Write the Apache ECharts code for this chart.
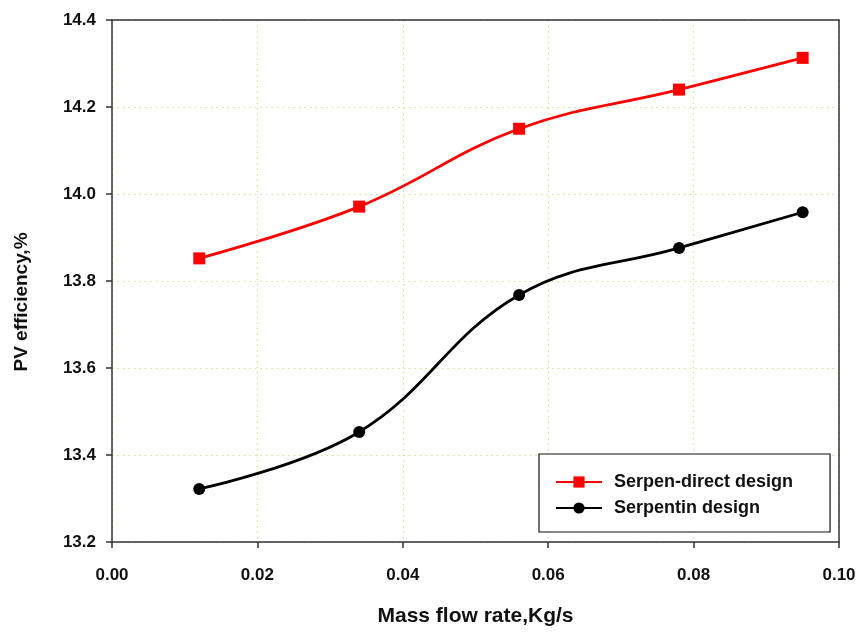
<!DOCTYPE html>
<html><head><meta charset="utf-8">
<script src="https://cdn.jsdelivr.net/npm/echarts@6/dist/echarts.min.js"></script>
<style>html,body{margin:0;padding:0;background:#fff}#c{width:863px;height:632px}</style>
</head><body><div id="c"></div>
<script>
const flowRates = [0.012, 0.034, 0.056, 0.078, 0.095];
const serpenDirect = [13.852, 13.971, 14.150, 14.240, 14.313];
const serpentin = [13.322, 13.453, 13.768, 13.876, 13.958];
const seriesNames = ['Serpen-direct design', 'Serpentin design'];
const xTitle = 'Mass flow rate,Kg/s';
const yTitle = 'PV efficiency,%';

const font = 'Liberation Sans, Arial, sans-serif';
const chart = echarts.init(document.getElementById('c'), null, {renderer: 'canvas'});
const pair = (xs, ys) => xs.map((x, i) => [x, ys[i]]);
const axisLine = {show: true, onZero: false, lineStyle: {color: '#333', width: 1.5}};
const gridLine = {show: true, lineStyle: {color: '#d6dc8c', type: [1.5, 4], width: 1.2}};
chart.setOption({
  animation: false,
  grid: {left: 112, right: 24, top: 20, bottom: 89},
  xAxis: [{
    type: 'value', min: 0, max: 0.1, interval: 0.02,
    name: xTitle, nameLocation: 'middle', nameGap: 64,
    nameTextStyle: {fontFamily: font, fontWeight: 'bold', fontSize: 21, color: '#111'},
    axisLine: axisLine,
    axisTick: {show: true, length: 6, lineStyle: {color: '#333', width: 1.5}},
    axisLabel: {fontFamily: font, fontWeight: 'bold', fontSize: 17, color: '#111', margin: 25, formatter: v => v.toFixed(2)},
    splitLine: gridLine
  }, {
    type: 'value', position: 'top', min: 0, max: 0.1, interval: 0.02, z: 5,
    axisLine: axisLine, axisTick: {show: false}, axisLabel: {show: false}, splitLine: {show: false}
  }],
  yAxis: [{
    type: 'value', min: 13.2, max: 14.4, interval: 0.2,
    name: yTitle, nameLocation: 'middle', nameGap: 81, nameRotate: 90,
    nameTextStyle: {fontFamily: font, fontWeight: 'bold', fontSize: 19, color: '#111', padding: [0, 42, 0, 0]},
    axisLine: axisLine,
    axisTick: {show: true, length: 6, lineStyle: {color: '#333', width: 1.5}},
    axisLabel: {fontFamily: font, fontWeight: 'bold', fontSize: 17, color: '#111', margin: 16, formatter: v => v.toFixed(1)},
    splitLine: gridLine
  }, {
    type: 'value', position: 'right', min: 13.2, max: 14.4, interval: 0.2, z: 5,
    axisLine: axisLine, axisTick: {show: false}, axisLabel: {show: false}, splitLine: {show: false}
  }],
  legend: {
    show: true, orient: 'vertical', left: 539, top: 454,
    padding: [19, 37, 15, 16], itemGap: 8,
    borderColor: '#111', borderWidth: 1.2, backgroundColor: '#fff',
    itemWidth: 46, itemHeight: 14,
    textStyle: {fontFamily: font, fontWeight: 'bold', fontSize: 18, color: '#111', padding: [0, 0, 0, 7]},
    data: seriesNames
  },
  series: [
    {name: seriesNames[0], type: 'line', smooth: 0.4, data: pair(flowRates, serpenDirect),
     symbol: 'rect', symbolSize: 12, itemStyle: {color: '#ff0000'}, lineStyle: {color: '#ff0000', width: 2.8}},
    {name: seriesNames[1], type: 'line', smooth: 0.4, data: pair(flowRates, serpentin),
     symbol: 'circle', symbolSize: 12, itemStyle: {color: '#000'}, lineStyle: {color: '#000', width: 2.8}}
  ]
});
</script></body></html>
